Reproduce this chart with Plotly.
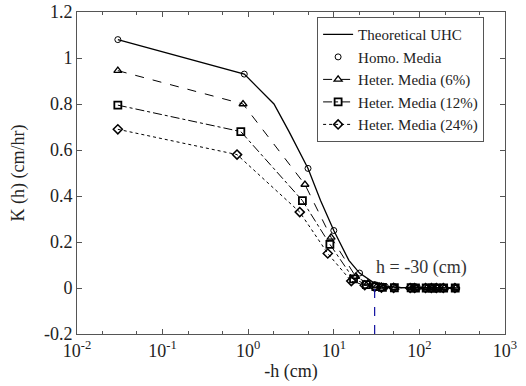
import plotly.graph_objects as go

# Theoretical UHC
uhc_h = [0.03, 0.9, 2, 3, 5, 7, 10, 15, 20, 30, 40, 60, 100, 150, 280]
uhc_k = [1.08, 0.93, 0.80, 0.68, 0.52, 0.38, 0.25, 0.12, 0.065, 0.02, 0.008, 0.003, 0.001, 0.0, 0.0]

# Homo. Media
homo_h = [0.03, 0.9, 5, 10, 20, 30, 40, 50, 85, 95, 125, 145, 165, 200, 270]
homo_k = [1.08, 0.93, 0.52, 0.25, 0.065, 0.015, 0.006, 0.003, 0.002, 0.002, 0.001, 0.001, 0.001, 0.0, 0.0]

# Heter. Media (6%)
h6_h = [0.03, 0.87, 4.6, 9.3, 18, 25, 32, 38, 52, 82, 92, 122, 142, 162, 195, 265]
h6_k = [0.945, 0.80, 0.45, 0.22, 0.05, 0.02, 0.008, 0.004, 0.002, 0.001, 0.001, 0.0, 0.0, 0.0, 0.0, 0.0]

# Heter. Media (12%)
h12_h = [0.03, 0.82, 4.3, 9.0, 17, 24, 31, 37, 51, 80, 90, 120, 140, 160, 192, 262]
h12_k = [0.795, 0.68, 0.38, 0.19, 0.04, 0.015, 0.006, 0.003, 0.001, 0.001, 0.0, 0.0, 0.0, 0.0, 0.0, 0.0]

# Heter. Media (24%)
h24_h = [0.03, 0.74, 4.0, 8.5, 16, 23, 30, 36, 50, 78, 88, 118, 138, 158, 190, 260]
h24_k = [0.69, 0.58, 0.33, 0.15, 0.03, 0.012, 0.005, 0.002, 0.001, 0.0, 0.0, 0.0, 0.0, 0.0, 0.0, 0.0]

x_tickvals = [0.01, 0.1, 1, 10, 100, 1000]
x_ticktext = ["10<sup>-2</sup>", "10<sup>-1</sup>", "10<sup>0</sup>", "10<sup>1</sup>", "10<sup>2</sup>", "10<sup>3</sup>"]
y_tickvals = [-0.2, 0, 0.2, 0.4, 0.6, 0.8, 1.0, 1.2]
y_ticktext = ["-0.2", "0", "0.2", "0.4", "0.6", "0.8", "1", "1.2"]

h_mark = [30, 30]
k_mark = [-0.2, 0]
label_text = "h = -30 (cm)"

FONT = "Liberation Serif"

fig = go.Figure()
fig.add_trace(go.Scatter(x=uhc_h, y=uhc_k, mode="lines", name="Theoretical UHC",
                         line=dict(color="black", width=1.3)))
fig.add_trace(go.Scatter(x=homo_h, y=homo_k, mode="markers", name="Homo. Media",
                         marker=dict(symbol="circle-open", size=6, color="black", line=dict(width=1))))
fig.add_trace(go.Scatter(x=h6_h, y=h6_k, mode="lines+markers", name="Heter. Media (6%)",
                         line=dict(color="black", width=1, dash="dash"),
                         marker=dict(symbol="triangle-up-open", size=7, color="black", line=dict(width=1.3))))
fig.add_trace(go.Scatter(x=h12_h, y=h12_k, mode="lines+markers", name="Heter. Media (12%)",
                         line=dict(color="black", width=1, dash="dashdot"),
                         marker=dict(symbol="square-open", size=7, color="black", line=dict(width=1.8))))
fig.add_trace(go.Scatter(x=h24_h, y=h24_k, mode="lines+markers", name="Heter. Media (24%)",
                         line=dict(color="black", width=1, dash="dot"),
                         marker=dict(symbol="diamond-open", size=7, color="black", line=dict(width=1.5))))
fig.add_trace(go.Scatter(x=h_mark, y=k_mark, mode="lines", showlegend=False,
                         line=dict(color="#1010a0", width=1.2, dash="dash")))

fig.add_annotation(x=1.47, y=0.09, xref="x", yref="y", text=label_text, showarrow=False,
                   xanchor="left", yanchor="middle", font=dict(family=FONT, size=18, color="#333"))

axis_common = dict(showline=True, linecolor="#555", linewidth=1, mirror="ticks",
                   ticks="inside", ticklen=5, tickcolor="#555", showgrid=False, zeroline=False,
                   automargin=False,
                   tickfont=dict(family=FONT, size=18, color="#222"))

fig.update_xaxes(type="log", range=[-2, 3], tickvals=x_tickvals, ticktext=x_ticktext,
                 title=dict(text="-h (cm)", font=dict(family=FONT, size=18, color="#222"), standoff=4),
                 minor=dict(ticks="inside", ticklen=3, tickcolor="#555", showgrid=False),
                 **axis_common)
fig.update_yaxes(range=[-0.2, 1.2], tickvals=y_tickvals, ticktext=y_ticktext,
                 title=dict(text="K (h) (cm/hr)", font=dict(family=FONT, size=18, color="#222"), standoff=14),
                 **axis_common)

fig.update_layout(template="none", width=526, height=386, margin=dict(l=77, r=21, t=12, b=52),
                  plot_bgcolor="white", paper_bgcolor="white",
                  font=dict(family=FONT, color="#222"),
                  legend=dict(x=0.561, y=0.984, xanchor="left", yanchor="top",
                              bgcolor="white", bordercolor="#555", borderwidth=1,
                              font=dict(family=FONT, size=15, color="#222"),
                              tracegroupgap=0, itemwidth=30),
                  showlegend=True)

fig.write_html("out.html", config={"displayModeBar": False},
               post_script="document.body.style.margin='0px';")
